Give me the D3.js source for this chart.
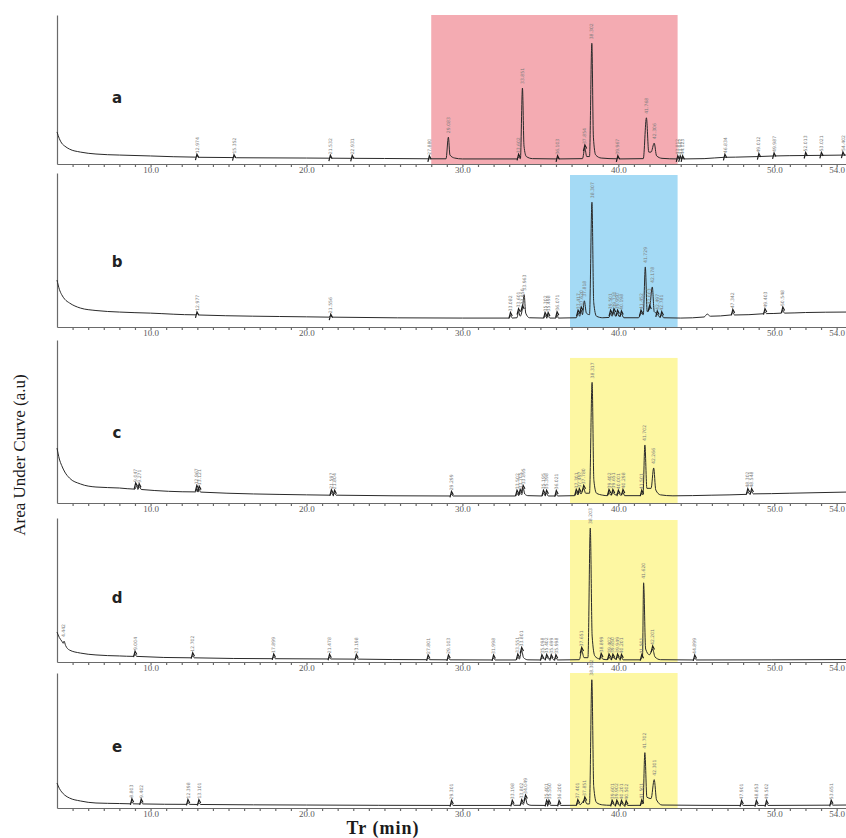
<!DOCTYPE html>
<html>
<head>
<meta charset="utf-8">
<script src="https://cdn.jsdelivr.net/npm/d3@7"></script>
<style>
body { margin: 0; background: #fff; }
.trace { fill: none; stroke: #2a2a2a; stroke-width: 1; }
.axis path, .axis line { stroke: #6a6a6a; stroke-width: 1.2; }
.axis text { font-family: "Liberation Serif", serif; font-size: 9px; fill: #5a5a5a; }
.rt { font-family: "DejaVu Sans", sans-serif; font-size: 4.6px; fill: #7a7a7a; }
.mark { fill: none; stroke: #1e1e1e; stroke-width: 1.2; }
.letter { font-family: "DejaVu Sans", sans-serif; font-weight: bold; font-size: 15px; fill: #222; }
.title { font-family: "Liberation Serif", serif; fill: #1a1a1a; }
</style>
</head>
<body>
<script>
// panels and axis labels
var panelNames = ["a", "b", "c", "d", "e"];
var tickLabels = [10, 20, 30, 40, 50, 54];

// highlighted retention windows (min) and top of the box (a.u.)
var shadeStart = [28.0, 36.9, 36.9, 36.9, 36.9];
var shadeEnd = [43.8, 43.8, 43.8, 43.8, 43.8];
var shadeTop = [100, 98.7, 89, 98.6, 100];

// chromatogram traces: [retention time (min), signal (a.u.)]
var traceA = [[4.0,21.5],[4.15,17],[4.3,14],[4.5,12],[4.8,10],[5.5,8],[6.5,6.7],[8,6],[10,5.4],[12.9,4.6],[13.0,5.3],[13.1,4.5],[15.3,4.3],[15.4,4.9],[15.5,4.2],[20,4],[21.45,3.9],[21.55,4.4],[21.65,3.9],[22.9,3.8],[23.0,4.3],[23.1,3.8],[25,3.7],[27.9,3.5],[28.95,3.5],[29.1,18],[29.2,6],[29.5,4],[30,3.4],[33.5,3.4],[33.6,4.5],[33.72,3.6],[33.85,51],[33.95,12],[34.1,5],[34.5,3.6],[36.0,3.4],[36.1,4],[36.2,3.4],[37.7,3.6],[37.85,10.7],[37.97,5],[38.15,5],[38.3,81],[38.4,18],[38.55,6],[38.9,4],[39.9,3.5],[40.0,4.2],[40.1,3.4],[41.6,3.6],[41.8,31],[41.95,8],[42.1,8],[42.3,14],[42.45,5.5],[42.8,3.8],[43.8,3.4],[43.9,4],[44.0,3.5],[44.1,4],[44.2,3.4],[45.5,3.6],[46.8,4.5],[47.5,4.6],[49,5],[50,5.4],[52,5.7],[53,5.8],[54.6,6]];
var traceB = [[4.0,30.5],[4.15,24.5],[4.3,21],[4.5,18],[4.8,15.6],[5.5,12.3],[6.5,10.7],[8,9.7],[10,9],[12.9,7.9],[12.98,9],[13.1,7.8],[20,6.6],[21.45,6.4],[21.55,7.4],[21.65,6.4],[30,5.8],[33.0,5.8],[33.08,7.5],[33.2,5.8],[33.5,6],[33.6,10],[33.7,7],[33.85,12],[33.96,21],[34.06,9],[34.3,6],[35.2,5.8],[35.3,7.5],[35.4,6.2],[35.5,7.5],[35.6,5.8],[36.0,5.8],[36.07,8],[36.15,5.8],[37.3,6],[37.42,9],[37.52,7],[37.62,11],[37.7,8],[37.82,17],[37.95,9],[38.15,8],[38.307,81],[38.42,16],[38.6,7],[39.0,6],[39.4,6.2],[39.5,9],[39.6,7],[39.72,10],[39.82,7],[39.95,9],[40.05,6.8],[40.2,8.5],[40.35,6],[41.3,6],[41.45,9],[41.6,8],[41.729,39],[41.85,10],[42.0,12],[42.178,26],[42.3,10],[42.5,8.5],[42.65,6.5],[42.78,8],[42.9,6],[44,5.8],[45.5,6.5],[45.7,8.4],[45.9,7],[47.2,7.8],[47.34,9.5],[47.45,7.8],[49.3,8.6],[49.4,10],[49.5,8.7],[50.45,9],[50.55,11],[50.65,9],[52,9.4],[54.6,9.7]];
var traceC = [[4.0,33.7],[4.15,27],[4.3,23],[4.5,19],[4.8,15.3],[5.5,11.7],[6.5,9.8],[8,9.2],[9.0,8.5],[9.1,10.5],[9.2,8.8],[9.3,10],[9.4,8.3],[12.9,6.8],[12.97,9],[13.05,7],[13.12,8.5],[13.2,6.7],[20,5],[21.5,4.8],[21.6,6.3],[21.7,4.9],[21.8,6],[21.9,4.8],[29.2,4.3],[29.3,5.3],[29.4,4.3],[33.4,4.3],[33.5,6],[33.6,4.6],[33.7,6.5],[33.8,5],[33.9,9],[34.0,5.5],[34.2,4.5],[35.1,4.3],[35.2,6],[35.3,4.8],[35.4,6],[35.5,4.3],[35.95,4.3],[36.02,5.8],[36.1,4.3],[37.2,4.5],[37.3,6.5],[37.4,5],[37.5,7],[37.6,5.5],[37.78,9],[37.9,6],[38.15,6],[38.317,74],[38.43,14],[38.6,6],[39.0,4.8],[39.3,4.5],[39.4,6.5],[39.5,5],[39.65,6.5],[39.8,5],[40.0,6],[40.15,4.8],[40.3,6.5],[40.4,4.5],[41.4,4.5],[41.5,6],[41.58,5],[41.702,35.6],[41.83,9],[42.1,9],[42.266,21.5],[42.4,8],[42.7,5],[43.5,4.4],[46,4.8],[48.2,5.3],[48.3,7],[48.4,5.6],[48.55,7],[48.65,5.6],[51,6],[54.6,6.7]];
var traceD = [[4.0,20.8],[4.15,17],[4.3,14.6],[4.4,13],[4.45,14.5],[4.55,11.5],[4.8,8.3],[5.5,6.2],[6.5,4.9],[8,4.2],[8.9,3.9],[9.0,5.5],[9.1,3.9],[12.6,2.9],[12.7,4.4],[12.8,2.9],[17.8,2.3],[17.9,3.5],[18.0,2.3],[21.4,2.1],[21.48,3.3],[21.56,2.1],[23.1,2],[23.2,3.2],[23.3,2],[27.7,1.6],[27.8,2.8],[27.9,1.6],[29.0,1.5],[29.1,2.9],[29.2,1.5],[31.9,1.4],[32.0,2.8],[32.1,1.4],[33.45,1.4],[33.55,3.5],[33.65,2],[33.8,8],[33.92,3],[34.2,1.5],[35.0,1.4],[35.1,3],[35.25,2],[35.4,3.2],[35.55,2],[35.7,3],[35.85,1.6],[36.0,3],[36.1,1.4],[37.5,1.6],[37.65,8],[37.8,3],[38.05,3],[38.2,93],[38.32,18],[38.5,4],[38.8,2.2],[38.9,3.8],[39.0,2],[39.3,1.6],[39.4,3.5],[39.5,2],[39.65,3.4],[39.8,2],[39.95,3.5],[40.1,2],[40.2,3.2],[40.3,1.5],[41.4,1.5],[41.5,3],[41.55,4],[41.62,55],[41.75,9],[42.0,5],[42.2,9],[42.35,3.5],[42.7,1.6],[44.8,1.4],[44.9,2.8],[45.0,1.4],[54.6,1.7]];
var traceE = [[4.0,18.5],[4.15,14.5],[4.3,11.9],[4.5,9.5],[4.8,7.4],[5.5,5.2],[6.5,3.7],[8,3.3],[8.7,3.1],[8.8,4.6],[8.9,3.1],[9.3,3],[9.4,4.5],[9.5,3],[12.3,2.7],[12.4,4.1],[12.5,2.7],[13.0,2.6],[13.1,4],[13.2,2.6],[20,2.2],[29.2,1.9],[29.3,3.3],[29.4,1.9],[33.1,1.9],[33.2,3.5],[33.3,2],[33.7,2],[33.8,4],[33.9,2.5],[34.05,7.4],[34.15,3],[34.4,2],[35.3,1.9],[35.4,3.5],[35.47,2.2],[35.55,3.5],[35.65,2],[36.1,1.9],[36.2,3.4],[36.3,1.9],[37.3,2],[37.4,4],[37.55,2.5],[37.85,6],[37.98,3],[38.15,3],[38.3,95],[38.42,16],[38.6,4],[39.0,2.3],[39.5,2],[39.6,3.5],[39.75,2.2],[39.9,3.5],[40.05,2.2],[40.2,3.4],[40.35,2],[40.5,3.2],[40.6,1.9],[41.4,2],[41.5,3.8],[41.58,3],[41.7,41],[41.83,8],[42.1,7],[42.3,21],[42.45,6],[42.8,2.2],[47.8,1.9],[47.9,3.3],[48.0,1.9],[48.75,1.9],[48.85,3.3],[48.95,1.9],[49.4,1.9],[49.5,3.3],[49.6,1.9],[53.55,2.1],[53.65,3.5],[53.75,2.1],[54.6,2.2]];

// integrated peaks: [retention time (min), signal at label (a.u.)]
var labelsA = [[12.974,4.6],[15.352,4.3],[21.532,3.9],[22.931,3.8],[27.880,3.5],[29.083,18],[33.602,4.5],[33.851,51],[36.103,3.5],[37.854,10.7],[38.302,81],[39.967,3.5],[41.768,31],[42.306,14],[43.812,3.5],[43.967,3.5],[44.123,3.5],[46.834,4.5],[49.012,5],[49.987,5.4],[52.013,5.7],[53.021,5.8],[54.402,6]];
var labelsB = [[12.977,7.9],[21.556,6.4],[33.082,7.5],[33.601,10],[33.850,12],[33.963,21],[35.302,7.5],[35.498,7.5],[36.071,8],[37.417,9],[37.620,11],[37.818,17],[38.307,81],[39.501,9],[39.720,10],[39.950,9],[40.198,8.5],[41.452,9],[41.729,39],[42.003,12],[42.178,26],[42.497,8.5],[42.781,8],[47.342,9.5],[49.403,10],[50.548,11]];
var labelsC = [[9.047,10.5],[9.271,10],[12.967,9],[13.121,8.5],[21.597,6.3],[21.804,6],[29.299,5.3],[33.502,6],[33.705,6.5],[33.895,9],[35.195,6],[35.398,6],[36.021,5.8],[37.301,6.5],[37.497,7],[37.780,9],[38.317,74],[39.402,6.5],[39.651,6.5],[40.001,6],[40.298,6.5],[41.501,6],[41.702,35.6],[42.266,21.5],[48.302,7],[48.548,7]];
var labelsD = [[4.442,14.5],[9.004,5.5],[12.702,4.4],[17.899,3.5],[21.478,3.3],[23.198,3.2],[27.801,2.8],[29.103,2.9],[31.998,2.8],[33.551,3.5],[33.801,8],[35.098,3],[35.402,3.2],[35.699,3],[35.998,3],[37.651,8],[38.203,93],[38.899,3.8],[39.402,3.5],[39.650,3.4],[39.949,3.5],[40.201,3.2],[41.501,3],[41.620,55],[42.201,9],[44.899,2.8]];
var labelsE = [[8.803,4.6],[9.402,4.5],[12.398,4.1],[13.101,4],[29.301,3.3],[33.198,3.5],[33.802,4],[34.049,7.4],[35.401,3.5],[35.550,3.5],[36.200,3.4],[37.401,4],[37.851,6],[38.302,95],[39.601,3.5],[39.902,3.5],[40.201,3.4],[40.502,3.2],[41.501,3.8],[41.702,41],[42.301,21],[47.901,3.3],[48.853,3.3],[49.502,3.3],[53.651,3.5]];

var traces = [traceA, traceB, traceC, traceD, traceE],
    peakLabels = [labelsA, labelsB, labelsC, labelsD, labelsE];

var width = 846, height = 838;

// page layout of each stacked panel
var panelTop = [15, 173, 340, 518, 673],
    panelAxis = [164, 327, 503, 662, 808],
    letterY = [103, 267, 438, 603, 752],
    shadeColor = ["#f4abb2", "#a4daf5", "#fdf7a2", "#fdf7a2", "#fdf7a2"];

var x = d3.scaleLinear()
    .domain([4, 54.6])
    .range([57, 846]);

var fmtRt = d3.format(".3f");

var svg = d3.select("body").append("svg")
    .attr("width", width)
    .attr("height", height);

panelNames.forEach(function(name, i) {
    var y = d3.scaleLinear()
        .domain([0, 100])
        .range([panelAxis[i], panelTop[i]]);

    var g = svg.append("g");

    // highlighted window
    g.append("rect")
        .attr("x", x(shadeStart[i]))
        .attr("y", y(shadeTop[i]))
        .attr("width", x(shadeEnd[i]) - x(shadeStart[i]))
        .attr("height", y(0) - y(shadeTop[i]))
        .attr("fill", shadeColor[i]);

    // minute ticks
    g.append("g")
        .attr("class", "axis")
        .attr("transform", "translate(0," + panelAxis[i] + ")")
        .call(d3.axisBottom(x).tickValues(d3.range(5, 55)).tickSize(3).tickSizeOuter(0).tickFormat(""));

    // labelled ticks
    var lab = g.append("g")
        .attr("class", "axis")
        .attr("transform", "translate(0," + panelAxis[i] + ")")
        .call(d3.axisBottom(x).tickValues(tickLabels).tickSize(0).tickPadding(3).tickFormat(d3.format(".1f")));
    lab.select(".domain").remove();

    // y axis line only
    g.append("g")
        .attr("class", "axis")
        .attr("transform", "translate(" + x(4) + ",0)")
        .call(d3.axisLeft(y).tickValues([]).tickSizeOuter(0));

    var line = d3.line()
        .curve(d3.curveMonotoneX)
        .x(function(d) { return x(d[0]); })
        .y(function(d) { return y(d[1]); });

    g.append("path")
        .datum(traces[i])
        .attr("class", "trace")
        .attr("d", line);

    // integration markers at the small peaks
    g.selectAll(".mark")
        .data(peakLabels[i].filter(function(d) { return d[1] <= 12; }))
      .enter().append("path")
        .attr("class", "mark")
        .attr("transform", function(d) { return "translate(" + x(d[0]) + "," + y(d[1]) + ")"; })
        .attr("d", "M-1.5,3L0,-3L1.8,0.5");

    // retention time labels
    g.selectAll(".rt")
        .data(peakLabels[i])
      .enter().append("text")
        .attr("class", "rt")
        .attr("transform", function(d) {
            return "translate(" + (x(d[0]) + 1.6) + "," + (y(d[1]) - 4) + ") rotate(-90)";
        })
        .text(function(d) { return fmtRt(d[0]); });

    g.append("text")
        .attr("class", "letter")
        .attr("x", 117)
        .attr("y", letterY[i])
        .attr("text-anchor", "middle")
        .text(name);
});

svg.append("text")
    .attr("class", "title")
    .attr("transform", "translate(25,455) rotate(-90)")
    .attr("text-anchor", "middle")
    .style("font-size", "17px")
    .text("Area Under Curve (a.u)");

svg.append("text")
    .attr("class", "title")
    .attr("x", 383)
    .attr("y", 834)
    .attr("text-anchor", "middle")
    .style("font-size", "18px")
    .style("font-weight", "bold")
    .style("letter-spacing", "1px")
    .text("Tr (min)");
</script>
</body>
</html>
